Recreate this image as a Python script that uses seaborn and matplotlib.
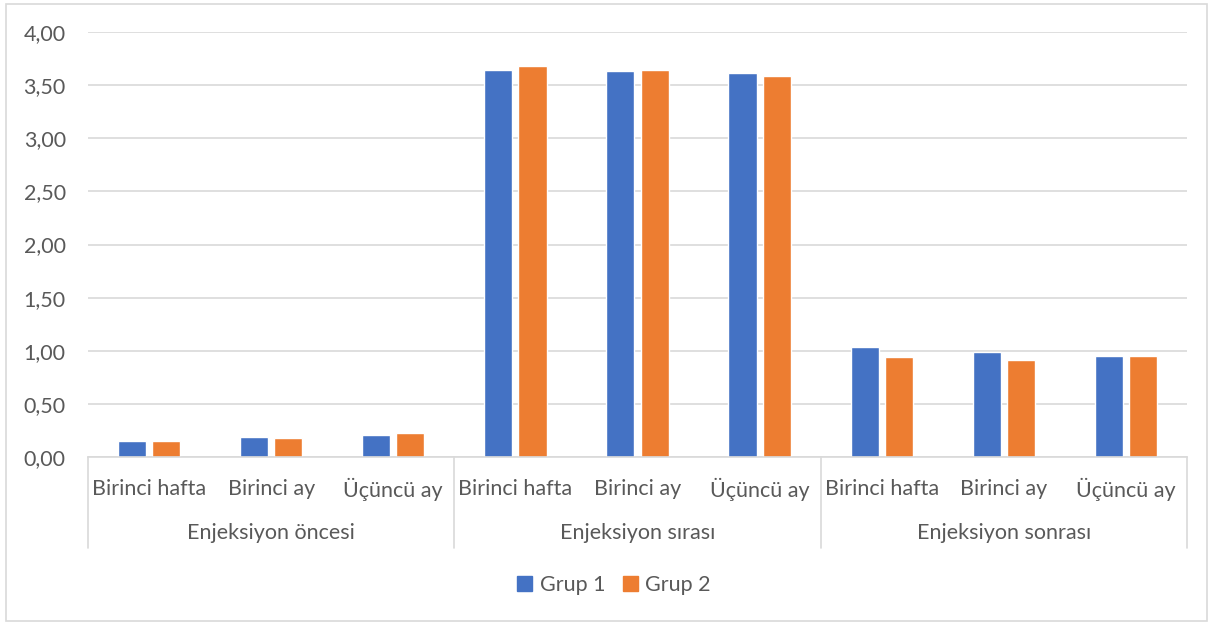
import matplotlib
matplotlib.use("Agg")
import matplotlib.pyplot as plt
from matplotlib.patches import Rectangle
from matplotlib.lines import Line2D
from matplotlib.ticker import FuncFormatter
import seaborn as sns
import pandas as pd

# Data
periods = ["Enjeksiyon öncesi", "Enjeksiyon sırası", "Enjeksiyon sonrası"]
times = ["Birinci hafta", "Birinci ay", "Üçüncü ay"]
series = ["Grup 1", "Grup 2"]
grup1 = [0.15, 0.19, 0.21, 3.64, 3.63, 3.61, 1.04, 0.99, 0.95]
grup2 = [0.15, 0.18, 0.23, 3.68, 3.64, 3.59, 0.94, 0.91, 0.95]
y_ticks = [0.0, 0.5, 1.0, 1.5, 2.0, 2.5, 3.0, 3.5, 4.0]

colors = ["#4472C4", "#ED7D31"]
text_color = "#595959"
grid_color = "#D9D9D9"
fs = 15.5

sns.set_theme(style="white")
plt.rcParams["font.family"] = ["Lato", "DejaVu Sans"]

rows = []
slots = []
for pi, p in enumerate(periods):
    for ti, t in enumerate(times):
        key = f"{p}|{t}"
        slots.append(key)
        k = pi * len(times) + ti
        rows.append({"slot": key, "grup": series[0], "value": grup1[k]})
        rows.append({"slot": key, "grup": series[1], "value": grup2[k]})
df = pd.DataFrame(rows)

fig = plt.figure(figsize=(12.14, 6.25), dpi=100)
ax = fig.add_axes([88 / 1214, 1 - 457 / 625, (1187 - 88) / 1214, (457 - 32) / 625])

sns.barplot(data=df, x="slot", y="value", hue="grup", order=slots,
            hue_order=series, palette=colors, width=0.56, gap=0.18,
            saturation=1, ax=ax, legend=False, errorbar=None)

ax.set_ylim(0, 4.0)
ax.set_xlim(-0.5, len(slots) - 0.5)
ax.set_yticks(y_ticks)
ax.yaxis.set_major_formatter(FuncFormatter(lambda v, _: f"{v:.2f}".replace(".", ",")))
ax.yaxis.grid(True, color=grid_color, linewidth=1.2)
ax.set_axisbelow(True)
for s in ["top", "right", "left"]:
    ax.spines[s].set_visible(False)
ax.spines["bottom"].set_color(grid_color)
ax.spines["bottom"].set_linewidth(1.2)
ax.tick_params(axis="y", length=0, pad=16, labelsize=fs, labelcolor=text_color)
ax.set_xlabel("")
ax.set_ylabel("")

# First level of category labels
ax.set_xticks(range(len(slots)))
ax.set_xticklabels(times * len(periods))
ax.tick_params(axis="x", length=0, pad=23, labelsize=fs, labelcolor=text_color)
for lab in ax.get_xticklabels():
    lab.set_verticalalignment("center")

# Second level: period labels and separators
tr = ax.get_xaxis_transform()
for pi, p in enumerate(periods):
    center = pi * len(times) + (len(times) - 1) / 2
    ax.text(center, -(533 - 457) / 425, p, transform=tr, ha="center", va="center",
            fontsize=fs, color=text_color)
for b in range(len(periods) + 1):
    xb = b * len(times) - 0.5
    ax.add_line(Line2D([xb, xb], [0, -(548 - 457) / 425], transform=tr,
                       color=grid_color, linewidth=1.2, clip_on=False))

# Legend
handles = [Rectangle((0, 0), 1, 1, color=c) for c in colors]
fig.legend(handles, series, loc="center", bbox_to_anchor=(614 / 1214, 1 - 585 / 625),
           ncol=2, frameon=False, fontsize=fs, handlelength=0.7, handleheight=0.7,
           handletextpad=0.35, columnspacing=0.8, labelcolor=text_color)

# Chart border
fig.patches.append(Rectangle((6 / 1214, 4 / 625), 1201 / 1214, 617 / 625,
                             transform=fig.transFigure, fill=False,
                             edgecolor=grid_color, linewidth=1.2))

fig.savefig("out.png", dpi=100)
